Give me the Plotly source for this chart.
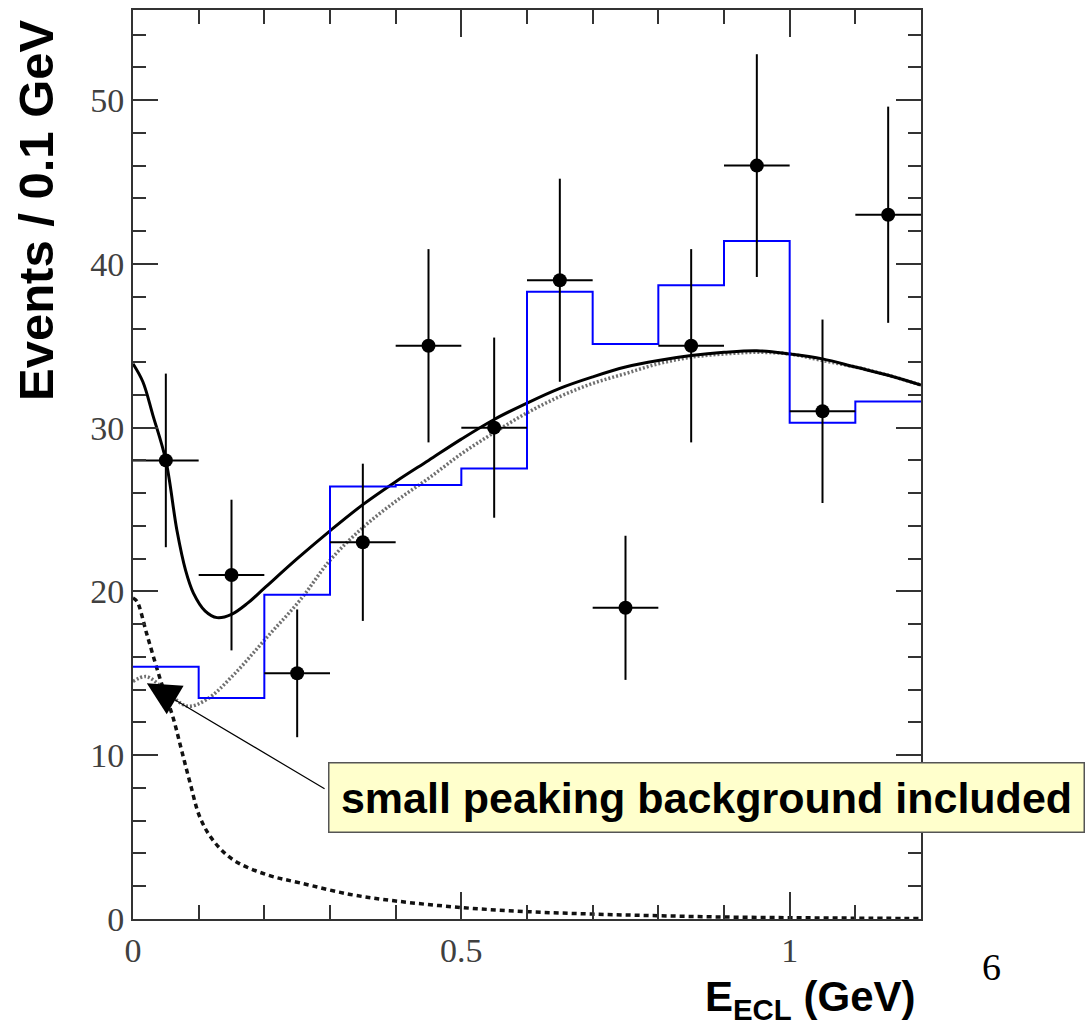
import plotly.graph_objects as go

# ---- data ----
bin_centers = [0.05, 0.15, 0.25, 0.35, 0.45, 0.55, 0.65, 0.75, 0.85, 0.95, 1.05, 1.15]
data_counts = [28, 21, 15, 23, 35, 30, 39, 19, 35, 46, 31, 43]
data_err = [5.3, 4.6, 3.9, 4.8, 5.9, 5.5, 6.2, 4.4, 5.9, 6.8, 5.6, 6.6]
bin_halfwidth = [0.05] * 12

hist_edges = [0.0, 0.1, 0.2, 0.3, 0.4, 0.5, 0.6, 0.7, 0.8, 0.9, 1.0, 1.1, 1.2]
hist_values = [15.4, 13.5, 19.8, 26.4, 26.5, 27.5, 38.3, 35.1, 38.7, 41.4, 30.3, 31.6]

fit_x = [0.0, 0.015, 0.03, 0.05, 0.067, 0.08, 0.092, 0.11, 0.128, 0.15, 0.175, 0.2, 0.25,
         0.3, 0.35, 0.4, 0.45, 0.5, 0.55, 0.6, 0.65, 0.7, 0.75, 0.8, 0.85, 0.9, 0.95,
         1.0, 1.05, 1.1, 1.15, 1.2]
fit_y = [33.9, 32.8, 30.8, 28.0, 23.7, 21.3, 19.9, 18.8, 18.4, 18.6, 19.3, 20.2, 22.0,
         23.7, 25.3, 26.7, 28.0, 29.3, 30.5, 31.5, 32.4, 33.1, 33.7, 34.1, 34.4, 34.6, 34.7,
         34.5, 34.2, 33.7, 33.2, 32.6]

bkg_x = [0.0, 0.02, 0.046, 0.082, 0.112, 0.153, 0.204, 0.255, 0.3, 0.35, 0.4, 0.45,
         0.5, 0.55, 0.6, 0.65, 0.7, 0.75, 0.8, 0.85, 0.9, 0.95, 1.0, 1.05, 1.1, 1.15, 1.2]
bkg_y = [14.5, 14.8, 14.1, 13.0, 13.4, 14.9, 17.2, 19.5, 21.9, 23.9, 25.5, 26.9,
         28.4, 29.7, 30.9, 31.9, 32.7, 33.3, 33.9, 34.3, 34.5, 34.6, 34.5, 34.1, 33.7, 33.2, 32.6]

peak_x = [0.0, 0.006, 0.021, 0.041, 0.061, 0.074, 0.087, 0.102, 0.122, 0.153, 0.204,
          0.255, 0.331, 0.4, 0.5, 0.6, 0.7, 0.8, 0.9, 1.0, 1.1, 1.2]
peak_y = [19.6, 19.4, 17.4, 14.7, 12.3, 10.3, 8.3, 6.2, 4.8, 3.6, 2.7,
          2.2, 1.5, 1.1, 0.7, 0.45, 0.3, 0.2, 0.12, 0.08, 0.05, 0.03]

hist_y_steps = hist_values + [hist_values[-1]]

fig = go.Figure()

fig.add_trace(go.Scatter(x=peak_x, y=peak_y, mode="lines", line_shape="spline",
                         line=dict(color="#111111", width=3.5, dash="5px,4px"),
                         showlegend=False, hoverinfo="skip"))
fig.add_trace(go.Scatter(x=bkg_x, y=bkg_y, mode="lines", line_shape="spline",
                         line=dict(color="#707070", width=3.5, dash="2px,2px"),
                         showlegend=False, hoverinfo="skip"))
fig.add_trace(go.Scatter(x=fit_x, y=fit_y, mode="lines", line_shape="spline",
                         line=dict(color="#000000", width=3),
                         showlegend=False, hoverinfo="skip"))
fig.add_trace(go.Scatter(x=hist_edges, y=hist_y_steps, mode="lines", line_shape="hv",
                         line=dict(color="#0000FF", width=2),
                         showlegend=False, hoverinfo="skip"))
fig.add_trace(go.Scatter(x=bin_centers, y=data_counts, mode="markers",
                         marker=dict(color="#000000", size=14),
                         error_y=dict(type="data", array=data_err, color="#000000",
                                      thickness=2, width=0),
                         error_x=dict(type="data", array=bin_halfwidth, color="#000000",
                                      thickness=2, width=0),
                         showlegend=False))

axis_common = dict(showline=True, linecolor="#333333", linewidth=2, mirror="ticks",
                   ticks="inside", tickcolor="#333333", tickwidth=2,
                   showgrid=False, zeroline=False,
                   tickfont=dict(family="Liberation Serif", size=34, color="#404040"))

fig.update_xaxes(range=[0, 1.2], tickmode="linear", tick0=0, dtick=0.5, ticklen=27,
                 minor=dict(dtick=0.1, tick0=0, ticks="inside", ticklen=14,
                            tickwidth=2, tickcolor="#333333"),
                 **axis_common)
fig.update_yaxes(range=[0, 55.5], tickmode="linear", tick0=0, dtick=10, ticklen=25,
                 minor=dict(dtick=2, tick0=0, ticks="inside", ticklen=13,
                            tickwidth=2, tickcolor="#333333"),
                 **axis_common)

annotations = [
    dict(text="<b>Events / 0.1 GeV</b>", textangle=-90, xref="paper", yref="paper",
         x=-0.123, y=0.78, xanchor="center", yanchor="middle", showarrow=False,
         font=dict(family="Liberation Sans", size=49, color="#000000")),
    dict(text="<b>E<sub>ECL</sub> (GeV)</b>", xref="paper", yref="paper",
         x=0.996, y=-0.089, xanchor="right", yanchor="middle", showarrow=False,
         font=dict(family="Liberation Sans", size=42, color="#000000")),
    dict(text="6", xref="paper", yref="paper", x=1.089, y=-0.053,
         xanchor="center", yanchor="middle", showarrow=False,
         font=dict(family="Liberation Serif", size=38, color="#000000")),
    dict(text="", x=0.021, y=14.4, xref="x", yref="y", ax=0.294, ay=7.9,
         axref="x", ayref="y", showarrow=True, arrowhead=2, arrowsize=5.5,
         arrowwidth=1.2, arrowcolor="#000000", standoff=0),
    dict(text="<b>small peaking background included</b>", xref="paper", yref="paper",
         x=0.7278, y=0.1334, xanchor="center", yanchor="middle", showarrow=False,
         width=752, height=66, bgcolor="#FFFFCC", bordercolor="#555555",
         borderwidth=1.5, borderpad=1,
         font=dict(family="Liberation Sans", size=43, color="#000000")),
]

fig.update_layout(width=1091, height=1031, margin=dict(l=133, r=170, t=8, b=112),
                  paper_bgcolor="white", plot_bgcolor="white",
                  annotations=annotations, showlegend=False)

fig.write_html("out.html")
